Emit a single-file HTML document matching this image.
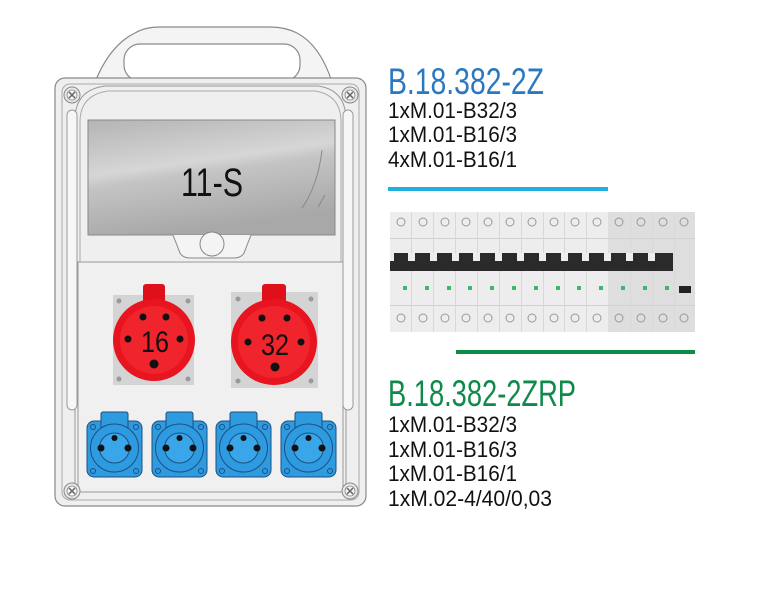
<!DOCTYPE html>
<html><head><meta charset="utf-8"><style>
html,body{margin:0;padding:0;background:#fff;}
svg{display:block;}
text{font-family:"Liberation Sans Narrow","Liberation Sans",sans-serif;}
</style></head><body>
<svg width="760" height="603" viewBox="0 0 760 603" xmlns="http://www.w3.org/2000/svg">
<defs>
<linearGradient id="win" x1="0" y1="0" x2="0.3" y2="1">
<stop offset="0" stop-color="#b4b4b4"/><stop offset="0.45" stop-color="#d6d6d6"/><stop offset="0.55" stop-color="#c4c4c4"/><stop offset="1" stop-color="#a8a8a8"/>
</linearGradient>
<g id="screw"><circle r="8" fill="#e8e8e8" stroke="#888" stroke-width="1"/><circle r="5" fill="#f4f4f4" stroke="#888" stroke-width="0.8"/><path d="M-3,-3L3,3M3,-3L-3,3" stroke="#666" stroke-width="1.5"/></g>
<g id="blue">
<rect x="0" y="9" width="55" height="56" rx="7" fill="#2e9ae0" stroke="#1d4f80" stroke-width="1"/>
<rect x="14" y="0" width="27" height="22" rx="2" fill="#2e9ae0" stroke="#1d4f80" stroke-width="1"/>
<circle cx="27.5" cy="36" r="24" fill="#2e9ae0" stroke="#1d4f80" stroke-width="1"/>
<circle cx="27.5" cy="36" r="15" fill="#3aa6ea" stroke="#1d4f80" stroke-width="1"/>
<circle cx="27.5" cy="26" r="3" fill="#111"/><circle cx="14" cy="36" r="3.5" fill="#111"/><circle cx="41" cy="36" r="3.5" fill="#111"/>
<circle cx="6" cy="15" r="2.5" fill="none" stroke="#1d4f80"/><circle cx="49" cy="15" r="2.5" fill="none" stroke="#1d4f80"/>
<circle cx="6" cy="59" r="2.5" fill="none" stroke="#1d4f80"/><circle cx="49" cy="59" r="2.5" fill="none" stroke="#1d4f80"/>
</g>
</defs>
<path d="M95,82 Q110,45 135,33 Q145,27 160,27 L270,27 Q285,27 297,33 Q320,45 332,82" fill="#f4f4f4" stroke="#8a8a8a" stroke-width="1.2"/>
<rect x="124" y="44" width="176" height="37" rx="16" fill="#fff" stroke="#8a8a8a" stroke-width="1.2"/>
<rect x="55" y="78" width="311" height="428" rx="10" fill="#efefef" stroke="#8a8a8a" stroke-width="1.2"/>
<rect x="62" y="84" width="297" height="416" rx="8" fill="none" stroke="#aaa" stroke-width="1"/>
<path d="M75,490 L75,120 Q75,90 105,86 L318,86 Q346,90 346,120 L346,490" fill="none" stroke="#999" stroke-width="1"/>
<path d="M80,490 L80,122 Q80,95 108,91 L315,91 Q341,95 341,122 L341,490" fill="none" stroke="#aaa" stroke-width="1"/>
<rect x="67" y="110" width="10" height="300" rx="5" fill="#f6f6f6" stroke="#9a9a9a"/>
<rect x="343" y="110" width="10" height="300" rx="5" fill="#f6f6f6" stroke="#9a9a9a"/>
<rect x="78" y="262" width="265" height="230" fill="#f0f0f0" stroke="#999" stroke-width="1"/>
<rect x="88" y="120" width="247" height="115" fill="url(#win)" stroke="#888" stroke-width="1"/>
<path d="M322,150 Q318,185 302,208 M325,195 L318,207" stroke="#888" fill="none" stroke-width="1"/>
<text x="212" y="196" font-size="40" text-anchor="middle" fill="#111" textLength="62" lengthAdjust="spacingAndGlyphs">11-S</text>
<path d="M173,235 L180,253 Q183,258 190,258 L234,258 Q241,258 244,253 L251,235" fill="#f4f4f4" stroke="#888"/>
<circle cx="212" cy="244" r="12" fill="#f4f4f4" stroke="#888"/>
<use href="#screw" x="72" y="95"/><use href="#screw" x="350" y="95"/><use href="#screw" x="72" y="491"/><use href="#screw" x="350" y="491"/>
<rect x="113" y="295" width="81" height="90" fill="#d4d4d4"/>
<circle cx="119" cy="301" r="2.5" fill="#999"/><circle cx="188" cy="301" r="2.5" fill="#999"/><circle cx="119" cy="379" r="2.5" fill="#999"/><circle cx="188" cy="379" r="2.5" fill="#999"/>
<rect x="143" y="284" width="22" height="24" rx="3" fill="#e0101a"/>
<circle cx="154" cy="340" r="41" fill="#e8141f"/>
<circle cx="154" cy="340" r="34" fill="#f0242c"/>
<circle cx="143" cy="317" r="3.5" fill="#111"/><circle cx="166" cy="317" r="3.5" fill="#111"/><circle cx="128" cy="339" r="3.5" fill="#111"/><circle cx="180" cy="339" r="3.5" fill="#111"/><circle cx="154" cy="364" r="4.5" fill="#111"/>
<text x="155" y="352" font-size="30" text-anchor="middle" fill="#111" textLength="28" lengthAdjust="spacingAndGlyphs">16</text>
<rect x="231" y="292" width="87" height="96" fill="#d4d4d4"/>
<circle cx="238" cy="299" r="2.5" fill="#999"/><circle cx="311" cy="299" r="2.5" fill="#999"/><circle cx="238" cy="381" r="2.5" fill="#999"/><circle cx="311" cy="381" r="2.5" fill="#999"/>
<rect x="262" y="284" width="24" height="24" rx="3" fill="#e0101a"/>
<circle cx="274" cy="342" r="43" fill="#e8141f"/>
<circle cx="274" cy="342" r="36" fill="#f0242c"/>
<circle cx="262" cy="318" r="3.5" fill="#111"/><circle cx="287" cy="318" r="3.5" fill="#111"/><circle cx="248" cy="342" r="3.5" fill="#111"/><circle cx="301" cy="342" r="3.5" fill="#111"/><circle cx="275" cy="367" r="4.5" fill="#111"/>
<text x="275" y="355" font-size="30" text-anchor="middle" fill="#111" textLength="28" lengthAdjust="spacingAndGlyphs">32</text>
<use href="#blue" x="87" y="412"/><use href="#blue" x="152" y="412"/><use href="#blue" x="216" y="412"/><use href="#blue" x="281" y="412"/>
<text x="388" y="94" font-size="37" fill="#2b78c0" textLength="156" lengthAdjust="spacingAndGlyphs">B.18.382-2Z</text>
<text x="388" y="118" font-size="22" fill="#111" textLength="129" lengthAdjust="spacingAndGlyphs">1xM.01-B32/3</text>
<text x="388" y="142" font-size="22" fill="#111" textLength="129" lengthAdjust="spacingAndGlyphs">1xM.01-B16/3</text>
<text x="388" y="167" font-size="22" fill="#111" textLength="129" lengthAdjust="spacingAndGlyphs">4xM.01-B16/1</text>
<rect x="388" y="187" width="220" height="4" fill="#1fb0e0"/>
<rect x="390" y="212" width="305" height="120" fill="#ededed"/>
<rect x="608" y="212" width="87" height="120" fill="#dedede"/>
<rect x="390" y="238" width="305" height="1" fill="#d0d0d0"/>
<rect x="390" y="305" width="305" height="1" fill="#d0d0d0"/>
<g fill="none" stroke="#999" stroke-width="1">
<circle cx="401" cy="222" r="4"/><circle cx="423" cy="222" r="4"/><circle cx="445" cy="222" r="4"/><circle cx="466" cy="222" r="4"/><circle cx="488" cy="222" r="4"/><circle cx="510" cy="222" r="4"/><circle cx="532" cy="222" r="4"/><circle cx="554" cy="222" r="4"/><circle cx="575" cy="222" r="4"/><circle cx="597" cy="222" r="4"/><circle cx="619" cy="222" r="4"/><circle cx="641" cy="222" r="4"/><circle cx="663" cy="222" r="4"/><circle cx="684" cy="222" r="4"/>
<circle cx="401" cy="318" r="4"/><circle cx="423" cy="318" r="4"/><circle cx="445" cy="318" r="4"/><circle cx="466" cy="318" r="4"/><circle cx="488" cy="318" r="4"/><circle cx="510" cy="318" r="4"/><circle cx="532" cy="318" r="4"/><circle cx="554" cy="318" r="4"/><circle cx="575" cy="318" r="4"/><circle cx="597" cy="318" r="4"/><circle cx="619" cy="318" r="4"/><circle cx="641" cy="318" r="4"/><circle cx="663" cy="318" r="4"/><circle cx="684" cy="318" r="4"/>
</g>
<g fill="#d8d8d8">
<rect x="411" y="212" width="1" height="120"/><rect x="433" y="212" width="1" height="120"/><rect x="455" y="212" width="1" height="120"/><rect x="477" y="212" width="1" height="120"/><rect x="499" y="212" width="1" height="120"/><rect x="521" y="212" width="1" height="120"/><rect x="543" y="212" width="1" height="120"/><rect x="564" y="212" width="1" height="120"/><rect x="586" y="212" width="1" height="120"/><rect x="630" y="212" width="1" height="120"/><rect x="652" y="212" width="1" height="120"/><rect x="674" y="212" width="1" height="120"/>
</g>
<g fill="#2a2a2a">
<rect x="390" y="253" width="239" height="18"/>
<rect x="629" y="253" width="44" height="18"/>
</g>
<g fill="#ededed">
<rect x="390" y="253" width="4" height="8"/><rect x="408" y="253" width="7" height="8"/><rect x="430" y="253" width="7" height="8"/><rect x="452" y="253" width="7" height="8"/><rect x="473" y="253" width="7" height="8"/><rect x="495" y="253" width="7" height="8"/><rect x="517" y="253" width="7" height="8"/><rect x="539" y="253" width="7" height="8"/><rect x="561" y="253" width="7" height="8"/><rect x="582" y="253" width="7" height="8"/><rect x="604" y="253" width="7" height="8"/><rect x="626" y="253" width="7" height="8"/><rect x="648" y="253" width="7" height="8"/>
</g>
<g fill="#3db86a">
<rect x="403" y="286" width="4" height="4"/><rect x="425" y="286" width="4" height="4"/><rect x="447" y="286" width="4" height="4"/><rect x="468" y="286" width="4" height="4"/><rect x="490" y="286" width="4" height="4"/><rect x="512" y="286" width="4" height="4"/><rect x="534" y="286" width="4" height="4"/><rect x="556" y="286" width="4" height="4"/><rect x="577" y="286" width="4" height="4"/><rect x="599" y="286" width="4" height="4"/><rect x="621" y="286" width="4" height="4"/><rect x="643" y="286" width="4" height="4"/><rect x="665" y="286" width="4" height="4"/>
</g>
<rect x="679" y="286" width="12" height="7" fill="#222"/>
<rect x="456" y="350" width="239" height="4" fill="#0f8a4a"/>
<text x="388" y="406" font-size="37" fill="#0f8a4a" textLength="188" lengthAdjust="spacingAndGlyphs">B.18.382-2ZRP</text>
<text x="388" y="432" font-size="22" fill="#111" textLength="129" lengthAdjust="spacingAndGlyphs">1xM.01-B32/3</text>
<text x="388" y="457" font-size="22" fill="#111" textLength="129" lengthAdjust="spacingAndGlyphs">1xM.01-B16/3</text>
<text x="388" y="481" font-size="22" fill="#111" textLength="129" lengthAdjust="spacingAndGlyphs">1xM.01-B16/1</text>
<text x="388" y="506" font-size="22" fill="#111" textLength="164" lengthAdjust="spacingAndGlyphs">1xM.02-4/40/0,03</text>
</svg>
</body></html>
